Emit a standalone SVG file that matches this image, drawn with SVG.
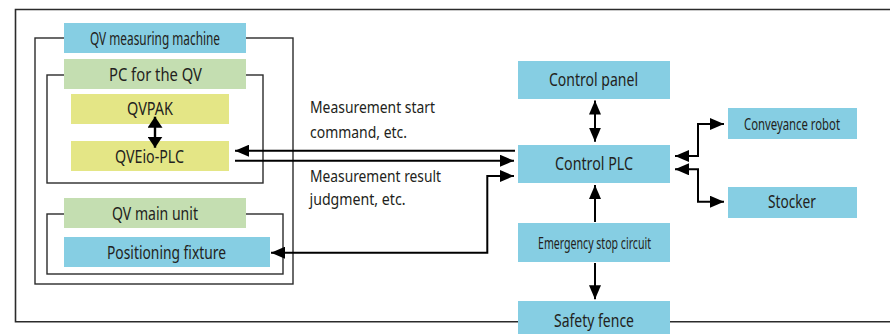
<svg xmlns="http://www.w3.org/2000/svg" width="890" height="334" viewBox="0 0 890 334">
<defs>
<style>
.frame{fill:none;stroke:#2b2b2b;stroke-width:1.4}
.blue{fill:#86cee3}
.green{fill:#c4deb1}
.yellow{fill:#e4e686}
.t{font-family:"Noto Sans","Open Sans","Liberation Sans",sans-serif;fill:#231f20;text-anchor:middle}
.lb{font-size:17.5px}
.sm{font-size:16px}
.msg{font-family:"Noto Sans","Open Sans","Liberation Sans",sans-serif;fill:#231f20;font-size:16px}
.c{fill:none;stroke:#000;stroke-width:2}
</style>
<marker id="ah" viewBox="0 0 14 12" refX="14" refY="6" markerWidth="14" markerHeight="12" markerUnits="userSpaceOnUse" orient="auto-start-reverse">
<path d="M0,0 L14,6 L0,12 z" fill="#000"/>
</marker>
<marker id="ahw" viewBox="0 0 11 15" refX="11" refY="7.5" markerWidth="11" markerHeight="15" markerUnits="userSpaceOnUse" orient="auto-start-reverse">
<path d="M0,0 L11,7.5 L0,15 z" fill="#000"/>
</marker>
</defs>
<rect width="890" height="334" fill="#fff"/>

<g id="outer-frame">
<path class="frame" d="M890,9.5 H15.5 V321.7 H890" style="stroke-width:1.6"/>
</g>

<g id="qv-measuring-machine">
<rect class="frame" x="35" y="38" width="258" height="246"/>
<rect class="blue" x="64" y="23" width="182" height="30"/>
<text class="t lb" x="155" y="44.5" textLength="130" lengthAdjust="spacingAndGlyphs">QV measuring machine</text>
</g>

<g id="pc-for-qv">
<rect class="frame" x="47" y="75" width="216" height="108"/>
<rect class="green" x="64" y="59" width="182" height="30"/>
<text class="t lb" x="155.5" y="81" textLength="93" lengthAdjust="spacingAndGlyphs">PC for the QV</text>
</g>

<g id="qvpak">
<rect class="yellow" x="71" y="94" width="158" height="30"/>
<text class="t lb" x="150" y="115" textLength="46" lengthAdjust="spacingAndGlyphs">QVPAK</text>
</g>

<g id="qveio-plc">
<rect class="yellow" x="71" y="141" width="158" height="30"/>
<text class="t lb" x="149.5" y="162.5" textLength="69" lengthAdjust="spacingAndGlyphs">QVEio-PLC</text>
</g>

<g id="qv-main-unit">
<rect class="frame" x="47" y="214" width="236" height="60"/>
<rect class="green" x="64" y="198" width="182" height="30"/>
<text class="t lb" x="155" y="220" textLength="86" lengthAdjust="spacingAndGlyphs">QV main unit</text>
</g>

<g id="positioning-fixture">
<rect class="blue" x="64" y="237" width="206" height="30"/>
<text class="t lb" x="166.5" y="259.3" textLength="119" lengthAdjust="spacingAndGlyphs">Positioning fixture</text>
</g>

<g id="control-panel">
<rect class="blue" x="518" y="61" width="152" height="38"/>
<text class="t lb" x="593.5" y="85.7" textLength="89" lengthAdjust="spacingAndGlyphs">Control panel</text>
</g>

<g id="control-plc">
<rect class="blue" x="518" y="145" width="152" height="38"/>
<text class="t lb" x="594" y="170" textLength="78" lengthAdjust="spacingAndGlyphs">Control PLC</text>
</g>

<g id="emergency-stop-circuit">
<rect class="blue" x="518" y="223" width="152" height="39"/>
<text class="t sm" x="594.5" y="249" textLength="113" lengthAdjust="spacingAndGlyphs">Emergency stop circuit</text>
</g>

<g id="safety-fence">
<rect class="blue" x="518" y="301" width="152" height="33"/>
<text class="t lb" x="594" y="326.7" textLength="80" lengthAdjust="spacingAndGlyphs">Safety fence</text>
</g>

<g id="conveyance-robot">
<rect class="blue" x="728" y="108" width="129" height="31"/>
<text class="t sm" x="792" y="130" textLength="96" lengthAdjust="spacingAndGlyphs">Conveyance robot</text>
</g>

<g id="stocker">
<rect class="blue" x="728" y="187" width="129" height="31"/>
<text class="t lb" x="792" y="208.3" textLength="48" lengthAdjust="spacingAndGlyphs">Stocker</text>
</g>

<g id="connectors">
<line class="c" x1="155" y1="116.7" x2="155" y2="147.7" marker-start="url(#ahw)" marker-end="url(#ahw)" style="stroke-width:2.4"/>
<path class="c" d="M515,150.7 H235" marker-end="url(#ah)"/>
<path class="c" d="M235,160.7 H514" marker-end="url(#ah)"/>
<path class="c" d="M271,252.7 H487.3 V176 H514" marker-start="url(#ah)" marker-end="url(#ah)"/>
<line class="c" x1="595" y1="100.5" x2="595" y2="141.7" marker-start="url(#ah)" marker-end="url(#ah)"/>
<line class="c" x1="595" y1="222" x2="595" y2="185" marker-end="url(#ah)"/>
<line class="c" x1="595" y1="263" x2="595" y2="299.3" marker-end="url(#ah)"/>
<path class="c" d="M675,156 H698 V124 H724" marker-start="url(#ah)" marker-end="url(#ah)"/>
<path class="c" d="M675,169.3 H698 V201.7 H724" marker-start="url(#ah)" marker-end="url(#ah)"/>
</g>

<g id="labels">
<text class="msg" x="310" y="113.3" textLength="125" lengthAdjust="spacingAndGlyphs">Measurement start</text>
<text class="msg" x="310" y="138.3" textLength="97" lengthAdjust="spacingAndGlyphs">command, etc.</text>
<text class="msg" x="310" y="181.7" textLength="131" lengthAdjust="spacingAndGlyphs">Measurement result</text>
<text class="msg" x="309.5" y="204.5" textLength="96" lengthAdjust="spacingAndGlyphs">judgment, etc.</text>
</g>
</svg>
